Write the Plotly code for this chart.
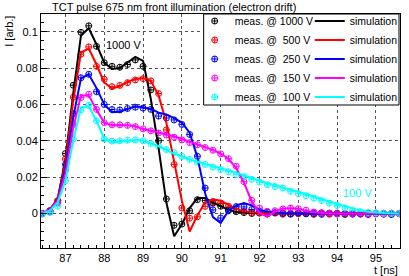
import plotly.graph_objects as go

# time axis [ns]
t_ns = [86.4, 86.6, 86.8, 87.0, 87.2, 87.4, 87.6, 87.8, 88.0, 88.2,
        88.4, 88.6, 88.8, 89.0, 89.2, 89.4, 89.6, 89.8, 90.0, 90.2,
        90.4, 90.6, 90.8, 91.0, 91.2, 91.4, 91.6, 91.8, 92.0, 92.2,
        92.4, 92.6, 92.8, 93.0, 93.2, 93.4, 93.6, 93.8, 94.0, 94.2,
        94.4, 94.6, 94.8, 95.0, 95.2, 95.4, 95.6]

voltages = ["1000", "500", "250", "150", "100"]
colors = ["#000000", "#ff0000", "#0000ff", "#ff00ff", "#00ffff"]

# measurements
meas_1000 = [0.0, 0.001, 0.007, 0.033, 0.0706, 0.0997, 0.1033, 0.092, 0.083, 0.081,
             0.0805, 0.082, 0.0845, 0.081, 0.068, 0.040, 0.008, -0.0065, -0.0058, 0.0015,
             0.0076, 0.0072, 0.0057, 0.004, 0.002, 0.001, 0.0005, 0.0, 0.0003, -0.0002,
             0.0004, 0.0001, -0.0003, 0.0002, 0.0, -0.0004, 0.0003, -0.0001, 0.0002, -0.0005,
             0.0001, -0.0003, 0.0002, -0.0002, 0.0001, -0.0004, 0.0]
meas_500 = [0.0, 0.0015, 0.007, 0.030, 0.064, 0.0877, 0.0917, 0.081, 0.0739, 0.0698,
            0.0705, 0.072, 0.0735, 0.0742, 0.073, 0.066, 0.046, 0.027, 0.003, -0.0026,
            -0.0018, 0.0039, 0.0065, 0.0058, 0.004, 0.0022, 0.0012, 0.0005, 0.0002, -0.0003,
            0.0002, -0.0004, 0.0001, -0.0002, 0.0003, -0.0003, 0.0001, -0.0004, 0.0, -0.0002,
            0.0002, -0.0003, -0.0001, 0.0002, -0.0004, 0.0001, -0.0002]
meas_250 = [0.0, 0.0015, 0.006, 0.027, 0.055, 0.0747, 0.0766, 0.067, 0.060, 0.0572,
            0.057, 0.0578, 0.0585, 0.058, 0.0573, 0.0536, 0.0525, 0.0515, 0.049, 0.0435,
            0.0315, 0.014, 0.002, -0.0025, 0.0015, 0.0038, 0.0036, 0.0022, 0.0012, 0.0008,
            0.0004, 0.0, -0.0003, 0.0002, -0.0002, 0.0001, -0.0005, 0.0002, -0.0003, 0.0,
            -0.0004, 0.0001, -0.0006, 0.0, -0.0003, -0.0005, 0.0001]
meas_150 = [0.0, 0.001, 0.006, 0.024, 0.049, 0.0638, 0.0656, 0.0573, 0.050, 0.0488,
            0.0488, 0.0485, 0.0478, 0.0466, 0.0455, 0.0443, 0.0432, 0.042, 0.0405, 0.039,
            0.0378, 0.0363, 0.0348, 0.0328, 0.0302, 0.026, 0.0175, 0.0072, 0.003, 0.0012,
            0.0015, 0.0025, 0.003, 0.0026, 0.0018, 0.0008, 0.0004, 0.0001, -0.0002, 0.0002,
            -0.0001, 0.0002, -0.0003, 0.0, -0.0002, 0.0001, -0.0001]
meas_100 = [-0.0005, 0.0005, 0.004, 0.018, 0.041, 0.057, 0.0595, 0.051, 0.041, 0.0398,
            0.040, 0.0403, 0.0405, 0.040, 0.0385, 0.037, 0.0352, 0.0335, 0.0315, 0.0298,
            0.0283, 0.027, 0.0255, 0.0242, 0.023, 0.0215, 0.0202, 0.0188, 0.0173, 0.0158,
            0.0148, 0.014, 0.0122, 0.0109, 0.0098, 0.0085, 0.0071, 0.0057, 0.0044, 0.003,
            0.0017, 0.001, 0.0005, 0.0003, 0.0001, 0.0, 0.0001]

# simulations
sim_1000 = [0.0, 0.002, 0.008, 0.030, 0.066, 0.098, 0.102, 0.093, 0.083, 0.0795,
            0.080, 0.083, 0.0862, 0.084, 0.063, 0.036, 0.006, -0.0125, -0.006, 0.003,
            0.0085, 0.0085, 0.006, 0.004, 0.002, 0.0008, 0.0004, 0.0002, 0.0001, 0.0,
            0.0, 0.0, 0.0, 0.0, 0.0, 0.0, 0.0, 0.0, 0.0, 0.0,
            0.0, 0.0, 0.0, 0.0, 0.0, 0.0, 0.0]
sim_500 = [0.0, 0.002, 0.008, 0.028, 0.062, 0.0886, 0.0908, 0.082, 0.072, 0.0688,
           0.070, 0.0725, 0.074, 0.0745, 0.073, 0.065, 0.050, 0.029, 0.007, -0.0099,
           -0.001, 0.006, 0.0078, 0.007, 0.0048, 0.0025, 0.0012, 0.0005, 0.0002, 0.0,
           0.0, 0.0, 0.0, 0.0, 0.0, 0.0, 0.0, 0.0, 0.0, 0.0,
           0.0, 0.0, 0.0, 0.0, 0.0, 0.0, 0.0]
sim_250 = [0.0, 0.002, 0.007, 0.025, 0.053, 0.0744, 0.0766, 0.069, 0.060, 0.0558,
           0.056, 0.0575, 0.059, 0.0585, 0.0575, 0.0555, 0.0545, 0.0525, 0.050, 0.0445,
           0.031, 0.011, -0.002, -0.0053, 0.0015, 0.0045, 0.0057, 0.0045, 0.002, 0.001,
           0.0005, 0.0002, 0.0, 0.0, 0.0, 0.0, 0.0, 0.0, 0.0, 0.0,
           0.0, 0.0, 0.0, 0.0, 0.0, 0.0, 0.0]
sim_150 = [0.0, 0.002, 0.007, 0.022, 0.047, 0.065, 0.065, 0.057, 0.050, 0.0485,
           0.0485, 0.0485, 0.048, 0.0465, 0.0455, 0.0445, 0.0435, 0.0425, 0.041, 0.0395,
           0.038, 0.0365, 0.035, 0.033, 0.030, 0.025, 0.017, 0.0065, 0.0002, -0.0017,
           0.001, 0.0028, 0.003, 0.0028, 0.0012, 0.0005, 0.0002, 0.0, 0.0, 0.0,
           0.0, 0.0, 0.0, 0.0, 0.0, 0.0, 0.0]
sim_100 = [0.0, 0.0015, 0.006, 0.018, 0.040, 0.0584, 0.059, 0.051, 0.041, 0.0392,
           0.0395, 0.040, 0.0405, 0.0402, 0.0388, 0.037, 0.035, 0.0328, 0.0315, 0.0297,
           0.0285, 0.0272, 0.0258, 0.0248, 0.0236, 0.0224, 0.021, 0.0195, 0.0178, 0.0166,
           0.0157, 0.0142, 0.0132, 0.012, 0.0104, 0.0092, 0.008, 0.0066, 0.0055, 0.004,
           0.0028, 0.0016, 0.0009, 0.0004, 0.0002, 0.0001, 0.0]

meas = [meas_1000, meas_500, meas_250, meas_150, meas_100]
sims = [sim_1000, sim_500, sim_250, sim_150, sim_100]

FONT = "Liberation Sans, Arial, sans-serif"
fig = go.Figure()

for v, c, m in zip(voltages, colors, meas):
    label = "meas. @ " + (v if len(v) == 4 else "\u00a0" + v) + " V"
    fig.add_trace(go.Scatter(x=t_ns, y=m, mode="markers", name=label,
                             marker=dict(symbol="circle-cross-open", size=6, color=c,
                                         line=dict(width=1, color=c)),
                             legend="legend"))
for v, c, s in zip(voltages, colors, sims):
    fig.add_trace(go.Scatter(x=t_ns, y=s, mode="lines", name="simulation",
                             line=dict(color=c, width=2), legend="legend2"))

W, H = 409, 276
ml, mr, mt, mb = 41, 6, 14, 28
pw, ph = W - ml - mr, H - mt - mb
def px(xp):
    return (xp - ml) / pw
def py(yp):
    return (H - mb - yp) / ph

axis_common = dict(showline=True, linecolor="black", linewidth=1, mirror=True,
                   ticks="inside", ticklen=6, tickcolor="black", tickwidth=1,
                   showgrid=True, gridcolor="#555555", griddash="dot", gridwidth=1,
                   zeroline=False, tickfont=dict(family=FONT, size=11, color="black"))

fig.update_layout(
    width=W, height=H,
    margin=dict(l=ml, r=mr, t=mt, b=mb),
    paper_bgcolor="white", plot_bgcolor="white",
    font=dict(family=FONT, size=11, color="black"),
    hovermode=False,
    xaxis=dict(range=[86.37, 95.62], tick0=87, dtick=1,
               minor=dict(dtick=0.2, tick0=87, ticks="inside", ticklen=3,
                          tickcolor="black", showgrid=False),
               **axis_common),
    yaxis=dict(range=[-0.019, 0.1098], tick0=0, dtick=0.02,
               minor=dict(dtick=0.005, tick0=0, ticks="inside", ticklen=3,
                          tickcolor="black", showgrid=False),
               **axis_common),
    legend=dict(x=px(196), y=py(59), xanchor="left", yanchor="middle",
                bgcolor="rgba(0,0,0,0)", borderwidth=0,
                font=dict(family=FONT, size=10.5, color="black")),
    legend2=dict(x=px(312), y=py(59), xanchor="left", yanchor="middle",
                 bgcolor="rgba(0,0,0,0)", borderwidth=0,
                 font=dict(family=FONT, size=10.5, color="black")),
    shapes=[dict(type="rect", xref="paper", yref="paper",
                 x0=px(205), x1=px(402), y0=py(105), y1=1.0,
                 fillcolor="white", line=dict(color="black", width=1), layer="above")],
    annotations=[
        dict(text="TCT pulse 675 nm front illumination (electron drift)",
             xref="paper", yref="paper", x=px(50), y=py(7), xanchor="left",
             yanchor="middle", showarrow=False, font=dict(size=11)),
        dict(text="I [arb.]", xref="paper", yref="paper", x=px(8), y=1.0,
             xanchor="center", yanchor="top", textangle=-90, showarrow=False,
             font=dict(size=11)),
        dict(text="t [ns]", xref="paper", yref="paper", x=px(403), y=py(269.5),
             xanchor="right", yanchor="middle", showarrow=False, font=dict(size=11)),
        dict(text="1000 V", x=88.51, y=0.0927, xref="x", yref="y", showarrow=False,
             font=dict(size=11, color="black")),
        dict(text="100 V", x=94.53, y=0.0112, xref="x", yref="y", showarrow=False,
             font=dict(size=11, color="#00ffff")),
    ],
)

fig.write_html("out.html", config={"displayModeBar": False, "staticPlot": True},
               post_script="document.body.style.margin='0px';")
